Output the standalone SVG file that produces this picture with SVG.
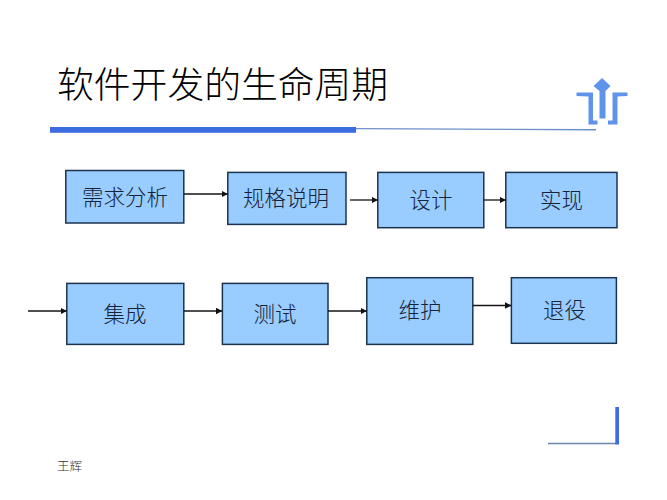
<svg xmlns="http://www.w3.org/2000/svg" width="667" height="500" viewBox="0 0 667 500">
  <style>
    text { font-family: "Liberation Serif", "Noto Sans CJK SC", serif; font-weight: 300; }
    .title { font-size: 36.8px; fill: #000000; }
    .label { font-size: 21.5px; fill: #14233a; text-anchor: middle; }
    .author { font-size: 12.5px; fill: #333333; }
    .box { fill: #99ccff; stroke: #1b3350; stroke-width: 1.5; }
    .link { fill: none; stroke: #141414; stroke-width: 1.3; marker-end: url(#tip); }
    .mark { fill: #5f94ea; }
  </style>
  <defs>
    <marker id="tip" markerUnits="userSpaceOnUse" markerWidth="7" markerHeight="7" refX="6" refY="3.500" orient="auto">
      <path d="M0,0.300 L6.500,3.500 L0,6.700 Z" fill="#111111"/>
    </marker>
  </defs>
  <rect width="667" height="500" fill="#ffffff"/>

  <!-- heading and rule -->
  <text class="title" x="57" y="98">软件开发的生命周期</text>
  <rect x="50" y="127" width="306" height="5.800" fill="#3d6be0"/>
  <path d="M356 128.600 L596 129.800" fill="none" stroke="#6e8fca" stroke-width="1.400"/>

  <!-- corner emblem -->
  <g id="emblem" class="mark">
    <path d="M602 78 L610.500 86 L605.500 91 L605.500 118.500 L599.500 118.500 L599.500 91 L593.500 86 Z"/>
    <path d="M576.500 92.500 L593 92.500 L593 120.500 L597.500 120.500 L597.500 124.500 L588.500 124.500 L588.500 96.500 L576.500 96 Z"/>
    <path d="M627.500 92.500 L612.500 92.500 L612.500 120.500 L608 120.500 L608 124.500 L617.500 124.500 L617.500 96.500 L627.500 96 Z"/>
  </g>

  <g id="n1"><rect class="box" x="65.800" y="170.500" width="118" height="52.500"/><text class="label" x="125" y="204.700">需求分析</text></g>
  <g id="n2"><rect class="box" x="227.800" y="172.400" width="118.200" height="52"/><text class="label" x="286" y="205.700">规格说明</text></g>
  <g id="n3"><rect class="box" x="377.800" y="172.400" width="106" height="55.300"/><text class="label" x="431" y="207.700">设计</text></g>
  <g id="n4"><rect class="box" x="505.800" y="172.400" width="111.200" height="55.300"/><text class="label" x="561.500" y="207.700">实现</text></g>
  <g id="n5"><rect class="box" x="66.800" y="283.400" width="117" height="61"/><text class="label" x="125" y="321.700">集成</text></g>
  <g id="n6"><rect class="box" x="222.400" y="283.400" width="105.600" height="61"/><text class="label" x="275" y="321.700">测试</text></g>
  <g id="n7"><rect class="box" x="366.800" y="277.700" width="106" height="66.700"/><text class="label" x="420" y="318.200">维护</text></g>
  <g id="n8"><rect class="box" x="511.400" y="277.700" width="105" height="65.600"/><text class="label" x="564.500" y="318.200">退役</text></g>

  <g id="connectors">
    <path class="link" d="M184 194 H227.500"/>
    <path class="link" d="M350 200 H377.500"/>
    <path class="link" d="M484 200 H505.500"/>
    <path class="link" d="M28 311 H66.500"/>
    <path class="link" d="M184 311 H222"/>
    <path class="link" d="M328 311 H366.500"/>
    <path class="link" d="M473 305.500 H511"/>
  </g>

  <!-- lower corner bracket -->
  <path d="M548 443.600 H616" fill="none" stroke="#6f86b0" stroke-width="1.500"/>
  <rect x="615.300" y="407" width="3.700" height="37.500" fill="#3d6be0"/>

  <text class="author" x="57" y="470.500">王辉</text>
</svg>
